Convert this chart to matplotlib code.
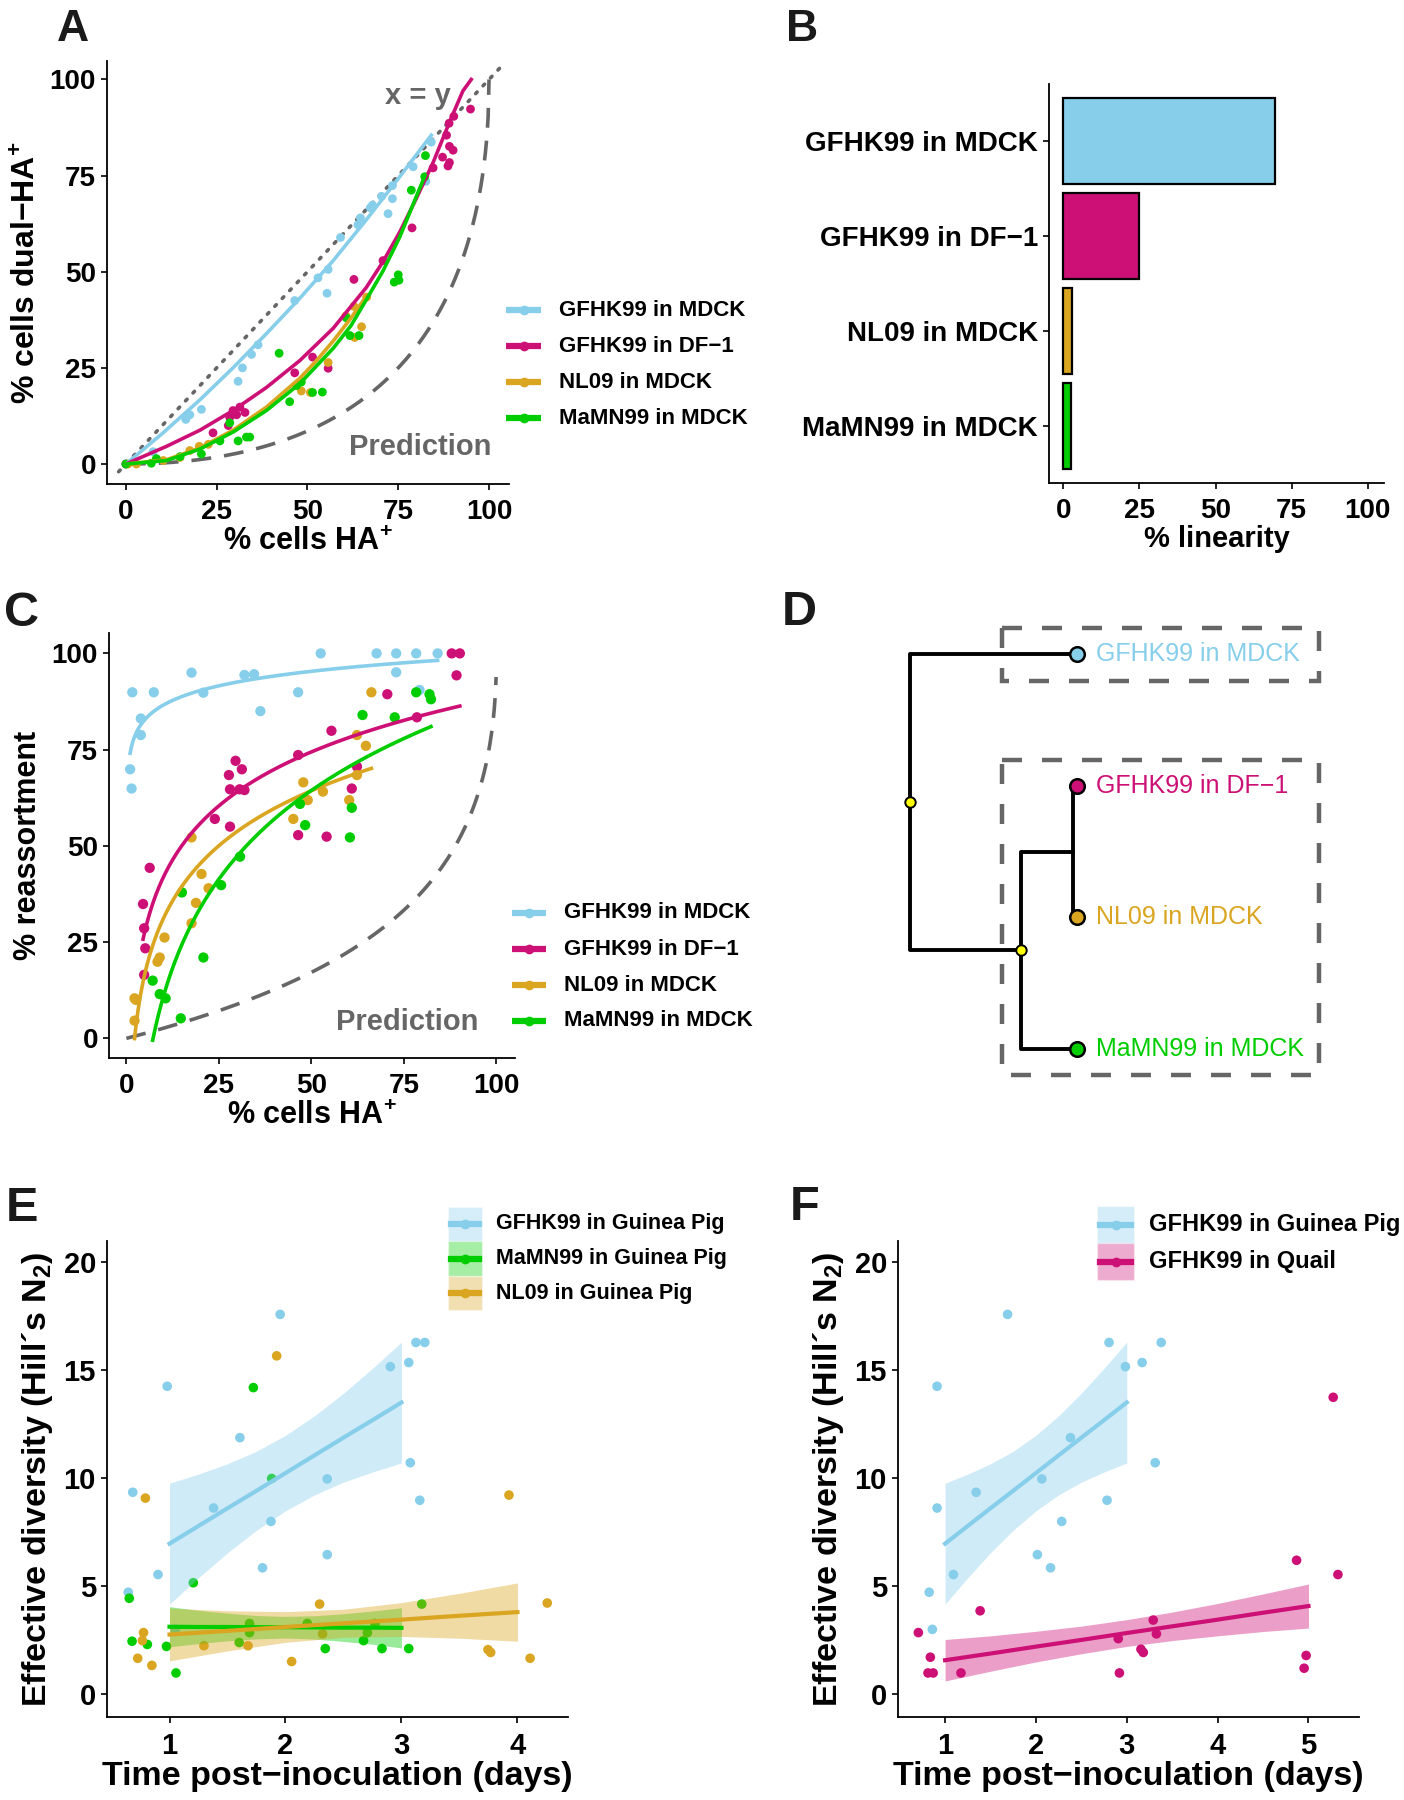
import numpy as np
import matplotlib
matplotlib.use('Agg')
import matplotlib.pyplot as plt
from matplotlib.lines import Line2D
from matplotlib.patches import Rectangle

plt.rcParams['font.family'] = ['Liberation Sans', 'DejaVu Sans']
plt.rcParams['font.weight'] = 'bold'
plt.rcParams['mathtext.fontset'] = 'custom'
plt.rcParams['mathtext.rm'] = 'Liberation Sans:bold'
plt.rcParams['mathtext.bf'] = 'Liberation Sans:bold'

SKY = '#87CEEB'
PINK = '#CD1076'
GOLD = '#DAA520'
GREEN = '#00CD00'
GREY = '#666666'

# ---- panel A : % dual-HA+ vs % HA+
a_mdck_x = [0, 7.5, 16.5, 17.6, 20.8, 30.9, 32.1, 34.6, 36.4, 46.5, 52.9, 55.7, 55.4, 59.1, 63.9,
            64.6, 67.3, 67.9, 70.4, 72.2, 73.4, 73.4, 79.1, 82.6, 84.1]
a_mdck_y = [0, 3.2, 11.6, 12.8, 14.2, 21.5, 25.0, 28.5, 31.0, 42.5, 48.4, 50.6, 44.4, 58.9, 62.2,
            64.0, 66.6, 67.3, 69.6, 65.1, 69.0, 72.4, 77.3, 73.5, 83.7]
a_df1_x = [0, 24.0, 28.2, 28.6, 29.5, 30.5, 31.4, 32.8, 46.5, 51.4, 55.7, 62.8, 70.8, 78.8, 84.6,
           87.2, 88.3, 88.7, 89.1, 89.1, 90.1, 89.0, 90.3, 94.9]
a_df1_y = [0, 8.1, 10.0, 12.1, 13.9, 12.8, 14.8, 13.4, 23.7, 27.8, 24.9, 48.0, 52.9, 61.4, 77.0,
           79.8, 85.5, 77.5, 82.6, 78.4, 81.6, 88.6, 90.4, 92.3]
a_nl09_x = [0.6, 2.9, 10.3, 14.9, 17.6, 20.2, 22.7, 48.3, 50.8, 55.7, 60.6, 62.8, 63.0, 64.9, 66.3]
a_nl09_y = [0.0, 0.0, 0.9, 1.7, 3.5, 4.6, 5.1, 19.0, 18.6, 26.4, 38.5, 41.0, 32.9, 35.7, 43.4]
a_mamn_x = [0, 7.0, 8.4, 14.9, 20.8, 25.9, 28.6, 30.9, 33.2, 34.1, 42.2, 45.1, 47.0, 48.3, 51.4,
            54.1, 60.7, 61.7, 64.2, 73.9, 75.0, 75.2, 78.6, 82.3, 82.5]
a_mamn_y = [0, 0.2, 1.4, 1.9, 2.6, 6.0, 10.7, 6.0, 7.0, 7.0, 28.8, 16.2, 20.4, 21.3, 18.6,
            18.7, 38.0, 33.4, 33.4, 47.3, 49.2, 47.8, 71.2, 74.7, 80.2]

# fitted curves of panel A
a_mdck_curve_x = [0, 10, 20.4, 29.5, 38.7, 47.9, 57.1, 66.2, 75.4, 84.1]
a_mdck_curve_y = [0, 7.9, 16.7, 25.0, 33.9, 43.1, 52.9, 63.5, 74.7, 85.5]
a_df1_curve_x = [0, 11.2, 20.4, 29.5, 38.7, 47.9, 57.1, 66.2, 70.8, 75.4, 80.0, 84.6, 89.2, 92.8, 95.1]
a_df1_curve_y = [0, 4.6, 8.8, 13.9, 19.9, 26.9, 35.3, 45.9, 52.6, 60.3, 69.1, 78.4, 89.1, 97.0, 100]
a_nl09_curve_x = [0, 11.2, 20.4, 29.5, 38.7, 47.9, 52.5, 57.1, 61.7, 66.2]
a_nl09_curve_y = [0, 1.1, 4.2, 8.8, 14.8, 22.3, 26.9, 32.0, 37.6, 43.6]
a_mamn_curve_x = [0, 11.2, 20.4, 29.5, 38.7, 47.9, 57.1, 62.0, 66.2, 70.8, 75.4, 80.0, 82.4]
a_mamn_curve_y = [0, 0.9, 3.9, 8.3, 13.9, 20.9, 30.1, 36.0, 42.7, 50.2, 59.0, 69.6, 75.1]

# ---- panel B : % linearity
b_labels = ['GFHK99 in MDCK', 'GFHK99 in DF\u22121', 'NL09 in MDCK', 'MaMN99 in MDCK']
b_values = [69.5, 25.0, 2.7, 2.5]
b_colors = [SKY, PINK, GOLD, GREEN]

# ---- panel C : % reassortment vs % HA+
c_mdck_x = [1.0, 1.4, 1.6, 3.9, 3.9, 7.4, 17.6, 20.8, 31.9, 34.5, 36.2, 46.4, 52.5, 67.6, 72.9,
            72.9, 78.3, 79.2, 84.1]
c_mdck_y = [69.9, 64.9, 89.9, 83.1, 78.8, 89.9, 95.0, 89.8, 94.4, 94.6, 85.0, 89.9, 100, 100, 100,
            95.1, 100, 90.5, 100]
c_df1_x = [4.5, 4.8, 5.1, 4.8, 6.3, 23.9, 27.7, 28.0, 28.0, 29.5, 30.6, 31.2, 31.9, 46.4, 46.4,
           54.1, 55.4, 60.9, 62.3, 70.5, 78.5, 87.9, 90.1, 89.2]
c_df1_y = [34.9, 28.6, 23.4, 16.5, 44.3, 57.0, 68.4, 64.7, 55.0, 72.1, 64.7, 69.9, 64.5, 73.6, 52.8,
           52.4, 79.9, 64.9, 70.6, 89.4, 83.4, 100, 100, 94.3]
c_nl09_x = [2.2, 2.2, 2.6, 8.4, 9.0, 10.3, 17.6, 17.6, 18.8, 20.3, 22.2, 45.1, 47.8, 49.0, 53.1,
            60.2, 62.3, 62.3, 64.7, 66.2]
c_nl09_y = [4.6, 10.4, 10.0, 19.9, 21.0, 26.2, 52.2, 29.9, 35.2, 42.7, 39.0, 57.0, 66.5, 61.9, 64.1,
            61.9, 68.4, 78.8, 76.0, 89.9]
c_mamn_x = [7.1, 9.0, 10.6, 14.7, 15.0, 20.8, 25.6, 30.7, 46.9, 48.3, 60.9, 60.4, 63.8, 72.5, 78.3,
            81.9, 82.3]
c_mamn_y = [15.0, 11.5, 10.4, 5.2, 37.9, 21.0, 39.8, 47.2, 60.9, 55.4, 59.9, 52.2, 84.0, 83.4, 89.9,
            89.4, 88.1]

# ---- panel E / F : effective diversity over time (points jittered around days)
e_gfhk_x = [0.644, 0.683, 0.901, 0.98, 1.05, 1.38, 1.607, 1.802, 1.875, 1.954, 2.36, 2.36, 2.904,
            3.063, 3.076, 3.125, 3.158, 3.201]
e_gfhk_y = [4.71, 9.34, 5.53, 14.25, 2.99, 8.61, 11.87, 5.84, 7.99, 17.58, 9.96, 6.45, 15.16,
            15.35, 10.71, 16.28, 8.97, 16.28]
e_mamn_x = [0.653, 0.677, 0.809, 0.974, 1.056, 1.205, 1.601, 1.69, 1.69, 1.723, 1.881, 2.188, 2.343,
            2.673, 2.706, 2.772, 2.832, 3.063, 3.175]
e_mamn_y = [4.43, 2.44, 2.29, 2.2, 0.97, 5.15, 2.38, 3.26, 2.84, 14.19, 9.98, 3.26, 2.1,
            2.47, 2.84, 3.26, 2.1, 2.1, 4.16]
e_nl09_x = [0.726, 0.766, 0.776, 0.792, 0.848, 1.297, 1.677, 1.924, 2.053, 2.294, 2.32, 3.746,
            3.769, 3.927, 4.109, 4.257]
e_nl09_y = [1.65, 2.47, 2.84, 9.07, 1.32, 2.23, 2.23, 15.66, 1.5, 4.16, 2.78, 2.05,
            1.92, 9.21, 1.65, 4.21]
f_gfhk_x = [0.825, 0.86, 0.912, 0.912, 1.092, 1.342, 1.688, 2.016, 2.065, 2.161, 2.284, 2.38,
            2.783, 2.805, 2.985, 3.169, 3.313, 3.379]
f_gfhk_y = [4.71, 2.99, 14.25, 8.61, 5.53, 9.34, 17.58, 6.45, 9.96, 5.84, 7.99, 11.87,
            8.97, 16.28, 15.16, 15.35, 10.71, 16.28]
f_quail_x = [0.706, 0.838, 0.812, 0.869, 1.175, 1.386, 2.906, 2.919, 3.156, 3.182, 3.291, 3.326,
             4.869, 4.974, 4.952, 5.272, 5.324]
f_quail_y = [2.84, 1.70, 0.97, 0.97, 0.97, 3.85, 2.56, 0.97, 2.07, 1.92, 3.42, 2.78,
             6.19, 1.78, 1.19, 13.74, 5.53]

# linear fits with 95% band
gp_days = [1, 1.25, 1.5, 1.75, 2, 2.25, 2.5, 2.75, 3]
gp_gfhk_fit = [6.96, 7.78, 8.60, 9.41, 10.23, 11.05, 11.87, 12.68, 13.50]
gp_gfhk_lo = [4.16, 5.38, 6.54, 7.58, 8.48, 9.22, 9.81, 10.28, 10.70]
gp_gfhk_hi = [9.76, 10.18, 10.66, 11.24, 11.98, 12.88, 13.93, 15.08, 16.30]
gp_mamn_fit = [3.11, 3.10, 3.10, 3.09, 3.09, 3.08, 3.07, 3.07, 3.06]
gp_mamn_lo = [2.18, 2.33, 2.46, 2.55, 2.59, 2.54, 2.43, 2.30, 2.13]
gp_mamn_hi = [4.04, 3.87, 3.74, 3.63, 3.59, 3.62, 3.71, 3.84, 3.99]
nl_days = [1, 1.5, 2, 2.5, 3, 3.5, 4]
gp_nl09_fit = [2.75, 2.92, 3.10, 3.27, 3.44, 3.62, 3.79]
gp_nl09_lo = [1.53, 1.99, 2.39, 2.62, 2.66, 2.58, 2.44]
gp_nl09_hi = [3.97, 3.85, 3.81, 3.92, 4.23, 4.66, 5.14]
quail_days = [1, 1.5, 2, 2.5, 3, 3.5, 4, 4.5, 5]
quail_fit = [1.56, 1.87, 2.19, 2.50, 2.82, 3.13, 3.44, 3.76, 4.07]
quail_lo = [0.60, 1.05, 1.48, 1.86, 2.20, 2.47, 2.69, 2.89, 3.05]
quail_hi = [2.52, 2.69, 2.90, 3.14, 3.44, 3.79, 4.19, 4.63, 5.09]

W, H = 1404, 1800
fig = plt.figure(figsize=(W / 100, H / 100), dpi=100)


def rect(l, t, r, b):
    return [l / W, 1 - b / H, (r - l) / W, (b - t) / H]


def style(ax, tsize=20):
    for s in ['top', 'right']:
        ax.spines[s].set_visible(False)
    for s in ['left', 'bottom']:
        ax.spines[s].set_linewidth(1.3)
    ax.tick_params(length=4, width=1.2, labelsize=tsize)
    ax.tick_params(axis='x', pad=6.5)
    ax.tick_params(axis='y', pad=4)
    for lab in ax.get_xticklabels() + ax.get_yticklabels():
        lab.set_fontweight('bold')


def legend_key(x0, x1, y, color, label, tx, size, lw=4.5):
    fig.add_artist(Line2D([x0 / W, x1 / W], [1 - y / H, 1 - y / H], color=color, lw=lw,
                          solid_capstyle='butt', transform=fig.transFigure))
    fig.add_artist(Line2D([(x0 + x1) / 2 / W], [1 - y / H], color=color, marker='o', ms=7,
                          mec='none', transform=fig.transFigure))
    fig.text(tx / W, 1 - y / H, label, fontsize=size, fontweight='bold', va='center')


def log_fit(x, y):
    x = np.asarray(x, float)
    b, a = np.polyfit(np.log(x), y, 1)
    xs = np.linspace(x.min(), x.max(), 200)
    return xs, a + b * np.log(xs)


series_a = [(a_mdck_x, a_mdck_y, SKY), (a_df1_x, a_df1_y, PINK),
            (a_nl09_x, a_nl09_y, GOLD), (a_mamn_x, a_mamn_y, GREEN)]
curves_a = [(a_mdck_curve_x, a_mdck_curve_y, SKY), (a_df1_curve_x, a_df1_curve_y, PINK),
            (a_nl09_curve_x, a_nl09_curve_y, GOLD), (a_mamn_curve_x, a_mamn_curve_y, GREEN)]
series_c = [(c_mdck_x, c_mdck_y, SKY), (c_df1_x, c_df1_y, PINK),
            (c_nl09_x, c_nl09_y, GOLD), (c_mamn_x, c_mamn_y, GREEN)]
legend_labels = ['GFHK99 in MDCK', 'GFHK99 in DF\u22121', 'NL09 in MDCK', 'MaMN99 in MDCK']

# ================= A
axA = fig.add_axes(rect(107, 61, 509, 484))
xx = np.linspace(-2, 103, 2)
axA.plot(xx, xx, color=GREY, lw=2.6, ls=(0, (0.6, 2.4)), dash_capstyle='round')
hx = np.linspace(0, 100, 400)
axA.plot(hx, 100 * (1 - np.sqrt(1 - hx / 100)) ** 2, color=GREY, lw=2.6, ls=(0, (5.5, 3.6)))
for x, y, c in series_a:
    axA.scatter(x, y, s=40, color=c, edgecolors='none', zorder=3)
for x, y, c in curves_a:
    axA.plot(x, y, color=c, lw=2.6, zorder=4, solid_joinstyle='round')
axA.text(89.4, 93.7, 'x = y', color=GREY, fontsize=21, fontweight='bold', ha='right', va='baseline')
axA.text(100.6, 2.3, 'Prediction', color=GREY, fontsize=21, fontweight='bold', ha='right', va='baseline')
axA.set_xlim(-5.2, 105.5)
axA.set_ylim(-5.2, 104.8)
axA.set_xticks([0, 25, 50, 75, 100])
axA.set_yticks([0, 25, 50, 75, 100])
style(axA)
axA.set_xlabel('% cells HA$^{+}$', fontsize=22, fontweight='bold', labelpad=2)
axA.set_ylabel('% cells dual\u2212HA$^{+}$', fontsize=23, fontweight='bold', labelpad=5)
for (x, y, c), lab, ky in zip(series_a, legend_labels, [310, 346, 382, 418]):
    legend_key(506, 541, ky, c, lab, 559, 16)

# ================= B
axB = fig.add_axes(rect(1049, 84, 1384, 483))
ypos = np.arange(len(b_labels))[::-1]
axB.barh(ypos, b_values, height=0.9, color=b_colors, edgecolor='black', linewidth=1.6)
axB.set_yticks(ypos)
axB.set_yticklabels(b_labels)
axB.set_xlim(-4.7, 105.3)
axB.set_ylim(-0.6, 3.6)
axB.set_xticks([0, 25, 50, 75, 100])
style(axB)
axB.set_xlabel('% linearity', fontsize=21, fontweight='bold', labelpad=1)

# ================= C
axC = fig.add_axes(rect(109, 633, 515, 1058))
hx = np.linspace(0, 99.9, 400)
s = np.sqrt(1 - hx / 100)
axC.plot(hx, 100 * (1 - s) / (1 + s), color=GREY, lw=2.6, ls=(0, (5.5, 3.6)))
for x, y, c in series_c:
    axC.scatter(x, y, s=55, color=c, edgecolors='none', zorder=3)
for x, y, c in series_c:
    fx_, fy_ = log_fit(x, y)
    axC.plot(fx_, fy_, color=c, lw=2.6, zorder=4)
axC.text(95.2, 2.2, 'Prediction', color=GREY, fontsize=21, fontweight='bold', ha='right', va='baseline')
axC.set_xlim(-4.7, 105.0)
axC.set_ylim(-5.1, 105.3)
axC.set_xticks([0, 25, 50, 75, 100])
axC.set_yticks([0, 25, 50, 75, 100])
style(axC)
axC.set_xlabel('% cells HA$^{+}$', fontsize=22, fontweight='bold', labelpad=2)
axC.set_ylabel('% reassortment', fontsize=22, fontweight='bold', labelpad=6)
for (x, y, c), lab, ky in zip(series_c, legend_labels, [913, 949, 985, 1021]):
    legend_key(512, 546, ky, c, lab, 564, 16)

# ================= D : tree (drawn in pixel coordinates)
axD = fig.add_axes(rect(820, 600, 1404, 1100))
axD.set_xlim(820, 1404)
axD.set_ylim(1100, 600)
axD.axis('off')
tree_lw = 2.8
axD.add_patch(Rectangle((1002, 628), 317, 53, fill=False, ec=GREY, lw=3.2, ls=(0, (4.5, 4.5))))
axD.add_patch(Rectangle((1002, 760), 317, 315, fill=False, ec=GREY, lw=3.2, ls=(0, (4.5, 4.5))))
axD.plot([1077, 910, 910, 1021], [654, 654, 950, 950], color='black', lw=tree_lw)
axD.plot([1077, 1021, 1021, 1072.5, 1072.5, 1077], [1049, 1049, 852, 852, 786, 786], color='black', lw=tree_lw)
axD.plot([1072.5, 1072.5, 1077], [852, 917, 917], color='black', lw=tree_lw)
tips_y = [654, 786, 917, 1049]
for ty, c, lab in zip(tips_y, b_colors, legend_labels):
    axD.plot(1077, ty, 'o', ms=10.5, mfc=c, mec='black', mew=1.8, zorder=5)
    axD.text(1096, ty, lab, color=c, fontsize=18, fontweight='normal', va='center', ha='left')
axD.plot([910, 1021], [802, 950], 'o', ms=7.5, mfc='#FFFF00', mec='black', mew=1.4, zorder=5)


# ================= E / F
def diversity_axes(r, xlim, xticks):
    ax = fig.add_axes(r)
    ax.set_xlim(*xlim)
    ax.set_ylim(-1.07, 20.98)
    ax.set_xticks(xticks)
    ax.set_yticks([0, 5, 10, 15, 20])
    style(ax, tsize=21)
    ax.set_xlabel('Time post\u2212inoculation (days)', fontsize=24.5, fontweight='bold', labelpad=1)
    ax.set_ylabel('Effective diversity (Hill\u00b4s N$_{2}$)', fontsize=24.5, fontweight='bold', labelpad=6)
    return ax


def band(ax, x, fit, lo, hi, c):
    ax.fill_between(x, lo, hi, color=c, alpha=0.4, lw=0, zorder=2)
    ax.plot(x, fit, color=c, lw=3, zorder=3)


def box_key(x0, x1, y0, y1, color, label, tx, size):
    fig.add_artist(Rectangle((x0 / W, 1 - y1 / H), (x1 - x0) / W, (y1 - y0) / H, fc=color, alpha=0.35,
                             ec='white', lw=1, transform=fig.transFigure))
    ym = (y0 + y1) / 2
    fig.add_artist(Line2D([(x0 + 3) / W, (x1 - 3) / W], [1 - ym / H] * 2, color=color, lw=4.5,
                          transform=fig.transFigure))
    fig.add_artist(Line2D([(x0 + x1) / 2 / W], [1 - ym / H], color=color, marker='o', ms=7,
                          mec='none', transform=fig.transFigure))
    fig.text(tx / W, 1 - ym / H, label, fontsize=size, fontweight='bold', va='center')


axE = diversity_axes(rect(107, 1241, 568, 1717), (0.461, 4.436), [1, 2, 3, 4])
axE.scatter(e_gfhk_x, e_gfhk_y, s=48, color=SKY, edgecolors='none', zorder=1)
axE.scatter(e_mamn_x, e_mamn_y, s=48, color=GREEN, edgecolors='none', zorder=1)
axE.scatter(e_nl09_x, e_nl09_y, s=48, color=GOLD, edgecolors='none', zorder=1)
band(axE, gp_days, gp_gfhk_fit, gp_gfhk_lo, gp_gfhk_hi, SKY)
band(axE, gp_days, gp_mamn_fit, gp_mamn_lo, gp_mamn_hi, GREEN)
band(axE, nl_days, gp_nl09_fit, gp_nl09_lo, gp_nl09_hi, GOLD)
box_key(448, 482, 1207, 1241, SKY, 'GFHK99 in Guinea Pig', 496, 15.5)
box_key(448, 482, 1241, 1276, GREEN, 'MaMN99 in Guinea Pig', 496, 15.5)
box_key(448, 482, 1276, 1310, GOLD, 'NL09 in Guinea Pig', 496, 15.5)

axF = diversity_axes(rect(898, 1241, 1359, 1717), (0.482, 5.556), [1, 2, 3, 4, 5])
axF.scatter(f_gfhk_x, f_gfhk_y, s=48, color=SKY, edgecolors='none', zorder=1)
axF.scatter(f_quail_x, f_quail_y, s=48, color=PINK, edgecolors='none', zorder=1)
band(axF, gp_days, gp_gfhk_fit, gp_gfhk_lo, gp_gfhk_hi, SKY)
band(axF, quail_days, quail_fit, quail_lo, quail_hi, PINK)
box_key(1097, 1134, 1206, 1243, SKY, 'GFHK99 in Guinea Pig', 1149, 17)
box_key(1097, 1134, 1243, 1280, PINK, 'GFHK99 in Quail', 1149, 17)

# panel letters
for lab, px, py, size in [('A', 57, 41, 32), ('B', 786, 41, 32), ('C', 4, 626, 35),
                          ('D', 782, 625, 35), ('E', 6, 1221, 35), ('F', 790, 1220, 35)]:
    fig.text(px / W, 1 - py / H, lab, fontsize=size, fontweight='bold', va='baseline', color='#1a1a1a')

fig.savefig('out.png', dpi=100)
